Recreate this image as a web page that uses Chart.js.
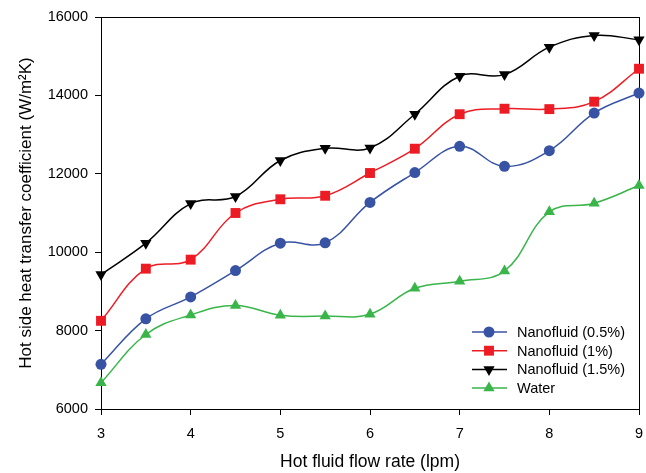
<!DOCTYPE html>
<html>
<head>
<meta charset="utf-8">
<script src="https://cdn.jsdelivr.net/npm/chart.js@4.4.0/dist/chart.umd.min.js"></script>
<style>
  html, body { margin: 0; padding: 0; background: #fff; }
  #wrap { width: 646px; height: 473px; }
</style>
</head>
<body>
<div id="wrap"><canvas id="chart" width="646" height="473"></canvas></div>
<script>
// === Data ===
const flowRate = [3, 3.5, 4, 4.5, 5, 5.5, 6, 6.5, 7, 7.5, 8, 8.5, 9];
const nano05 = [7140, 8300, 8860, 9530, 10230, 10240, 11270, 12030, 12700, 12190, 12590, 13550, 14060];
const nano10 = [8250, 9580, 9810, 11000, 11350, 11440, 12020, 12640, 13520, 13660, 13650, 13840, 14680];
const nano15 = [9430, 10230, 11240, 11420, 12340, 12650, 12660, 13520, 14490, 14530, 15230, 15530, 15420];
const water = [6670, 7900, 8400, 8640, 8390, 8370, 8420, 9080, 9260, 9520, 11030, 11250, 11700];
const xTicks = [3, 4, 5, 6, 7, 8, 9];
const yTicks = [6000, 8000, 10000, 12000, 14000, 16000];

const FONT = "'Liberation Sans', Arial, Helvetica, sans-serif";

const toPoints = (ys) => ys.map((y, i) => ({ x: flowRate[i], y }));

const series = [
  { label: 'Nanofluid (0.5%)', data: nano05, color: '#3953a4', style: 'circle', radius: 5.5, rotation: 0 },
  { label: 'Nanofluid (1%)', data: nano10, color: '#ed1c24', style: 'rect', radius: 7, rotation: 0 },
  { label: 'Nanofluid (1.5%)', data: nano15, color: '#000000', style: 'triangle', radius: 6.5, rotation: 180 },
  { label: 'Water', data: water, color: '#39b54a', style: 'triangle', radius: 6.5, rotation: 0 }
];

// Box around the plot area (left/bottom come from the axes)
const framePlugin = {
  id: 'frame',
  beforeDatasetsDraw(chart) {
    const { ctx, chartArea: a } = chart;
    ctx.save();
    ctx.strokeStyle = '#000';
    ctx.lineWidth = 1;
    ctx.strokeRect(a.left + 0.5, a.top + 0.5, a.right - a.left, a.bottom - a.top);
    ctx.restore();
  }
};

function drawMarker(ctx, s, x, y) {
  ctx.save();
  ctx.fillStyle = s.color;
  ctx.beginPath();
  if (s.style === 'circle') {
    ctx.arc(x, y, s.radius, 0, Math.PI * 2);
  } else if (s.style === 'rect') {
    const h = s.radius * Math.SQRT1_2;
    ctx.rect(x - h, y - h, 2 * h, 2 * h);
  } else {
    let rad = s.rotation * Math.PI / 180;
    for (let k = 0; k < 3; k++) {
      const px = x + Math.sin(rad) * s.radius;
      const py = y - Math.cos(rad) * s.radius;
      k === 0 ? ctx.moveTo(px, py) : ctx.lineTo(px, py);
      rad += 2 * Math.PI / 3;
    }
    ctx.closePath();
  }
  ctx.fill();
  ctx.restore();
}

// Legend sits inside the plot, lower right
const legendPlugin = {
  id: 'insideLegend',
  afterDraw(chart) {
    const { ctx, chartArea: a } = chart;
    const x0 = a.right - 167;
    const y0 = a.bottom - 77;
    ctx.save();
    ctx.font = '14.5px ' + FONT;
    ctx.textBaseline = 'middle';
    series.forEach((s, i) => {
      const y = y0 + i * 18.7;
      ctx.strokeStyle = s.color;
      ctx.lineWidth = 1.5;
      ctx.beginPath();
      ctx.moveTo(x0, y);
      ctx.lineTo(x0 + 35, y);
      ctx.stroke();
      drawMarker(ctx, s, x0 + 17, y);
      ctx.fillStyle = '#000';
      ctx.fillText(s.label, x0 + 45, y + 1);
    });
    ctx.restore();
  }
};

new Chart(document.getElementById('chart'), {
  type: 'line',
  data: {
    datasets: series.map(s => ({
      label: s.label,
      data: toPoints(s.data),
      borderColor: s.color,
      backgroundColor: s.color,
      borderWidth: 1.5,
      tension: 0.4,
      pointStyle: s.style,
      pointRadius: s.radius,
      pointRotation: s.rotation,
      pointBorderWidth: 0,
      clip: false
    }))
  },
  options: {
    responsive: false,
    animation: false,
    layout: { padding: { left: 0, top: 17, right: 2, bottom: 0 } },
    plugins: {
      legend: { display: false },
      tooltip: { enabled: false }
    },
    scales: {
      x: {
        type: 'linear',
        min: 3,
        max: 9,
        afterBuildTicks: (scale) => { scale.ticks = xTicks.map(v => ({ value: v })); },
        afterFit: (scale) => {
          scale.height = 64;
          // let the plot run right up to the layout padding
          scale.paddingLeft = 0;
          scale.paddingRight = 0;
        },
        border: { color: '#000', width: 1 },
        grid: { drawOnChartArea: false, drawTicks: true, tickLength: 6, color: '#000' },
        ticks: { color: '#000', font: { family: FONT, size: 14.5 }, padding: 10, maxRotation: 0, callback: (v) => String(v) },
        title: { display: true, text: 'Hot fluid flow rate (lpm)', color: '#000', font: { family: FONT, size: 17.5 }, padding: { top: 4, bottom: 0 } }
      },
      y: {
        min: 6000,
        max: 16000,
        afterBuildTicks: (scale) => { scale.ticks = yTicks.map(v => ({ value: v })); },
        afterFit: (scale) => { scale.width = 101; },
        border: { color: '#000', width: 1 },
        grid: { drawOnChartArea: false, drawTicks: true, tickLength: 6, color: '#000' },
        ticks: { color: '#000', font: { family: FONT, size: 14.5 }, padding: 7, callback: (v) => String(v) },
        title: { display: true, text: 'Hot side heat transfer coefficient (W/m\u00B2K)', color: '#000', font: { family: FONT, size: 17 }, padding: { top: 16, bottom: 0 } }
      }
    }
  },
  plugins: [framePlugin, legendPlugin]
});
</script>
</body>
</html>
